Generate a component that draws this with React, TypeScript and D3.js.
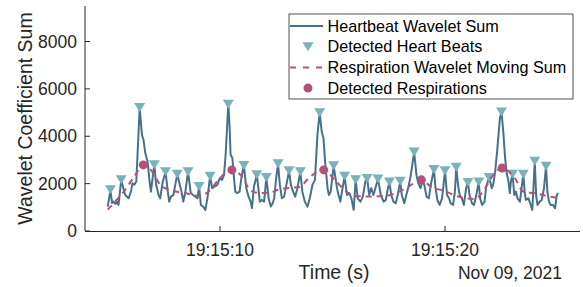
import * as d3 from 'd3';

// seconds after 19:15:00 on Nov 09 2021, wavelet coefficient sum
const heartbeatSum: [number, number][] = [
  [5.01, 1030], [5.13, 1740], [5.2, 1185], [5.27, 1240], [5.35, 1140], [5.42, 1230], [5.49, 1100],
  [5.61, 2160], [5.72, 1740], [5.79, 1520], [5.94, 1380], [6.04, 1660], [6.11, 2020], [6.19, 1950],
  [6.28, 2090], [6.43, 5210], [6.53, 4060], [6.6, 3850], [6.68, 3290], [6.78, 2930], [6.87, 2090],
  [6.93, 1660], [7.08, 2800], [7.16, 1950], [7.27, 1520], [7.34, 1380], [7.46, 2090], [7.58, 2500],
  [7.67, 1740], [7.74, 1240], [7.82, 1450], [7.93, 1520], [8.1, 2400], [8.29, 1660], [8.37, 1240],
  [8.46, 1660], [8.58, 2500], [8.7, 1600], [8.8, 1520], [8.91, 1450], [9.0, 1380], [9.07, 1880],
  [9.15, 1100], [9.25, 1030], [9.35, 890], [9.44, 1380], [9.56, 2310], [9.65, 1810], [9.77, 1880],
  [9.88, 1950], [9.99, 2230], [10.09, 2160], [10.18, 2370], [10.25, 3220], [10.37, 5350], [10.43, 4350],
  [10.47, 3220], [10.55, 3080], [10.61, 2370], [10.68, 1660], [10.77, 1600], [10.87, 1660], [10.95, 2230],
  [11.06, 2770], [11.17, 1810], [11.27, 1450], [11.36, 1240], [11.42, 960], [11.51, 1880], [11.64, 2370],
  [11.77, 1240], [11.86, 1310], [11.96, 1240], [12.06, 2260], [12.16, 1380], [12.26, 1030], [12.34, 1170],
  [12.41, 1380], [12.48, 2090], [12.58, 2840], [12.66, 1950], [12.75, 1380], [12.85, 1450], [12.95, 1950],
  [13.07, 2540], [13.15, 1950], [13.25, 1660], [13.34, 1450], [13.44, 1810], [13.57, 2500], [13.66, 1660],
  [13.77, 1240], [13.89, 1030], [13.99, 1380], [14.11, 1950], [14.22, 2160], [14.33, 4060], [14.43, 4990],
  [14.52, 4200], [14.6, 3920], [14.67, 2930], [14.78, 1810], [14.84, 1520], [14.92, 1660], [15.05, 2750],
  [15.2, 1810], [15.27, 1520], [15.35, 1240], [15.42, 1660], [15.54, 2310], [15.64, 1520], [15.75, 1600],
  [15.84, 1380], [15.94, 890], [16.03, 2160], [16.12, 1380], [16.24, 1240], [16.35, 1450], [16.46, 2090],
  [16.54, 2220], [16.63, 1520], [16.72, 1810], [16.82, 1520], [17.02, 2200], [17.15, 1520], [17.27, 1240],
  [17.37, 1310], [17.45, 1740], [17.53, 2070], [17.61, 1520], [17.71, 1240], [17.81, 1170], [17.9, 1520],
  [18.01, 2100], [18.08, 1520], [18.19, 1170], [18.28, 1520], [18.38, 1880], [18.48, 2370], [18.63, 3340],
  [18.73, 2370], [18.81, 2020], [18.91, 1810], [19.0, 2090], [19.08, 1950], [19.18, 1450], [19.28, 1380],
  [19.37, 1950], [19.51, 2600], [19.57, 1880], [19.66, 1310], [19.76, 1100], [19.87, 1380], [20.0, 2540],
  [20.09, 1520], [20.18, 1380], [20.25, 1170], [20.36, 1100], [20.44, 1660], [20.5, 2690], [20.58, 1950],
  [20.65, 1520], [20.75, 1380], [20.84, 1100], [20.94, 1810], [21.02, 2050], [21.09, 1520], [21.2, 1170],
  [21.29, 1100], [21.36, 1380], [21.5, 2070], [21.56, 1380], [21.65, 1100], [21.76, 1240], [21.83, 1880],
  [21.96, 2260], [22.08, 1810], [22.14, 1950], [22.23, 2510], [22.33, 3500], [22.44, 4770], [22.51, 5020],
  [22.59, 4200], [22.66, 3220], [22.73, 2510], [22.82, 2090], [22.88, 1600], [22.93, 2090], [23.0, 2400],
  [23.08, 1520], [23.15, 1660], [23.22, 1380], [23.33, 1240], [23.48, 2400], [23.54, 1660], [23.59, 1310],
  [23.71, 1380], [23.81, 1100], [23.88, 890], [23.99, 2940], [24.05, 1520], [24.11, 1100], [24.21, 1240],
  [24.3, 1310], [24.4, 1810], [24.49, 2730], [24.55, 1660], [24.62, 1240], [24.7, 1100], [24.8, 1100],
  [24.89, 960], [24.97, 1520], [25.03, 1600],
];

const heartBeats: [number, number][] = [
  [5.13, 1740], [5.61, 2160], [6.43, 5210], [7.08, 2800], [7.58, 2500], [8.1, 2400], [8.58, 2500],
  [9.07, 1880], [9.56, 2310], [10.37, 5350], [11.06, 2770], [11.64, 2370], [12.06, 2260], [12.58, 2840],
  [13.07, 2540], [13.57, 2500], [14.43, 4990], [15.05, 2750], [15.54, 2310], [16.03, 2160], [16.54, 2220],
  [17.02, 2200], [17.53, 2070], [18.01, 2100], [18.63, 3340], [19.51, 2600], [20.0, 2540], [20.5, 2690],
  [21.02, 2050], [21.5, 2070], [21.96, 2260], [22.51, 5020], [23.0, 2400], [23.48, 2400], [23.99, 2940],
  [24.49, 2730],
];

const respirationSum: [number, number][] = [
  [5.01, 900], [5.35, 1250], [5.79, 1750], [6.19, 2300], [6.59, 2790], [6.99, 2500], [7.34, 1950],
  [7.78, 1730], [8.45, 1600], [9.11, 1480], [9.56, 1730], [10.0, 2240], [10.53, 2580], [11.02, 2240],
  [11.33, 1730], [11.77, 1600], [12.22, 1620], [12.66, 1770], [13.1, 1820], [13.54, 1860], [13.99, 2280],
  [14.61, 2580], [15.1, 2160], [15.54, 1730], [15.98, 1480], [16.65, 1460], [17.31, 1480], [18.11, 1730],
  [18.42, 1900], [18.95, 2160], [19.39, 1860], [19.97, 1690], [20.64, 1440], [21.3, 1350], [21.74, 1730],
  [22.05, 2240], [22.54, 2660], [23.07, 2280], [23.51, 1650], [23.96, 1600], [24.53, 1480], [24.98, 1400],
];

const respirations: [number, number][] = [
  [6.59, 2790], [10.53, 2580], [14.61, 2580], [18.95, 2160], [22.54, 2660],
];

const yTicks = [0, 2000, 4000, 6000, 8000];
const xTickSeconds = [10, 20];
const xLimits = [4, 26];
const yLimits = [0, 9500];

const legendItems = [
  'Heartbeat Wavelet Sum',
  'Detected Heart Beats',
  'Respiration Wavelet Moving Sum',
  'Detected Respirations',
];

const BLUE = '#47718b';
const TEAL = '#7bb2ba';
const ROSE = '#b6507a';
const INK = '#262626';
const FONT = '"Liberation Sans", Arial, Helvetica, sans-serif';

const toDate = (s: number) => new Date(2021, 10, 9, 19, 15, 0, Math.round(s * 1000));

export default function App() {
  const width = 583;
  const height = 287;
  const margin = { top: 6, right: 3, bottom: 56, left: 85 };

  const x = d3.scaleTime()
    .domain([toDate(xLimits[0]), toDate(xLimits[1])])
    .range([margin.left, width - margin.right]);

  const y = d3.scaleLinear()
    .domain(yLimits)
    .range([height - margin.bottom, margin.top]);

  const line = d3.line<[number, number]>()
    .x(d => x(toDate(d[0])))
    .y(d => y(d[1]));

  const smooth = d3.line<[number, number]>()
    .x(d => x(toDate(d[0])))
    .y(d => y(d[1]))
    .curve(d3.curveMonotoneX);

  const fmtTime = d3.timeFormat('%H:%M:%S');
  const fmtDay = d3.timeFormat('%b %d, %Y');

  const y0 = y(0);
  const tri = (cx: number, cy: number) =>
    `M${cx - 5.5},${cy - 4.5}L${cx + 5.5},${cy - 4.5}L${cx},${cy + 4.5}Z`;

  const lg = { x: 289, y: 14, w: 284, h: 85, row: 20.7 };

  return (
    <svg
      width={width}
      height={height}
      style={{ position: 'absolute', left: 0, top: 0, background: '#fff' }}
      fontFamily={FONT}
    >
      {/* data */}
      <path d={line(heartbeatSum) || ''} fill="none" stroke={BLUE} strokeWidth={2} strokeLinejoin="round" />
      {heartBeats.map((d, i) => (
        <path key={i} d={tri(x(toDate(d[0])), y(d[1]))} fill={TEAL} />
      ))}
      <path
        d={smooth(respirationSum) || ''}
        fill="none"
        stroke={ROSE}
        strokeWidth={2}
        strokeDasharray="6,5"
      />
      {respirations.map((d, i) => (
        <circle key={i} cx={x(toDate(d[0]))} cy={y(d[1])} r={4.5} fill={ROSE} />
      ))}

      {/* y axis */}
      <line x1={margin.left} x2={margin.left} y1={margin.top} y2={y0} stroke={INK} strokeWidth={1} />
      {yTicks.map(t => (
        <g key={t} transform={`translate(0,${y(t)})`}>
          <line x1={margin.left} x2={margin.left + 5} stroke={INK} />
          <text x={77} dy="0.35em" textAnchor="end" fontSize={17.5} fill={INK}>
            {t}
          </text>
        </g>
      ))}
      <text
        transform={`translate(31.5,${(margin.top + y0) / 2}) rotate(-90)`}
        textAnchor="middle"
        fontSize={19.5}
        fill={INK}
      >
        Wavelet Coefficient Sum
      </text>

      {/* x axis */}
      <line x1={margin.left} x2={width - margin.right} y1={y0 + 0.5} y2={y0 + 0.5} stroke={INK} />
      {xTickSeconds.map(s => (
        <g key={s} transform={`translate(${x(toDate(s))},0)`}>
          <line y1={y0} y2={y0 - 5} stroke={INK} />
          <text y={256} textAnchor="middle" fontSize={17.5} fill={INK}>
            {fmtTime(toDate(s))}
          </text>
        </g>
      ))}
      <text x={334} y={279} textAnchor="middle" fontSize={19.5} fill={INK}>
        Time (s)
      </text>
      <text x={562} y={279} textAnchor="end" fontSize={17.5} fill={INK}>
        {fmtDay(toDate(xTickSeconds[0]))}
      </text>

      {/* legend */}
      <rect x={lg.x} y={lg.y} width={lg.w} height={lg.h} fill="#fff" stroke={INK} strokeWidth={0.8} />
      {legendItems.map((label, i) => {
        const cy = lg.y + 12 + i * lg.row;
        return (
          <g key={label}>
            {i === 0 && <line x1={290} x2={323} y1={cy} y2={cy} stroke={BLUE} strokeWidth={2} />}
            {i === 1 && <path d={tri(308, cy)} fill={TEAL} />}
            {i === 2 && (
              <line x1={290} x2={323} y1={cy} y2={cy} stroke={ROSE} strokeWidth={2} strokeDasharray="6,7" />
            )}
            {i === 3 && <circle cx={308} cy={cy} r={4.5} fill={ROSE} />}
            <text x={327.5} y={cy} dy="0.35em" fontSize={16.2} fill="#000">
              {label}
            </text>
          </g>
        );
      })}
    </svg>
  );
}
